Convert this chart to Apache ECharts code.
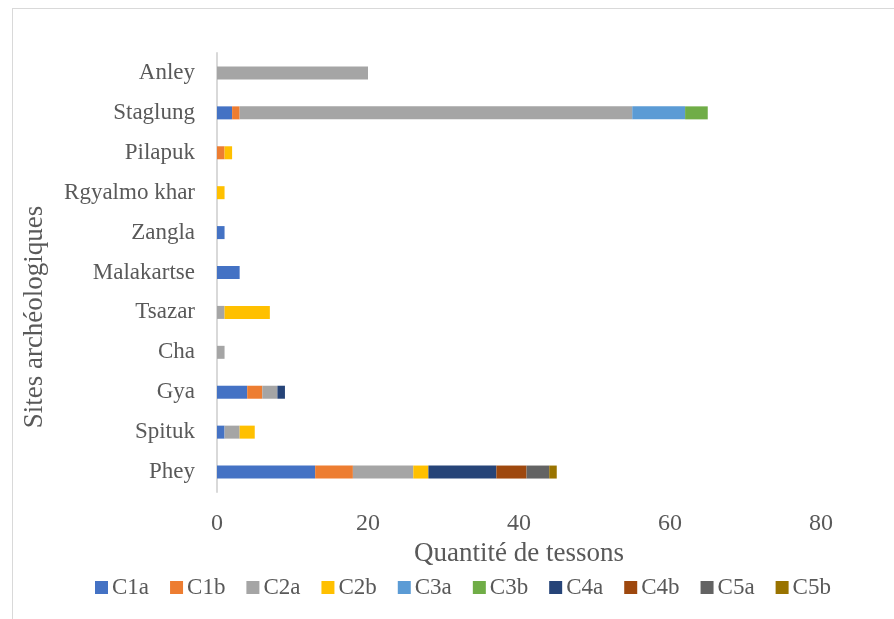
<!DOCTYPE html>
<html>
<head>
<meta charset="utf-8">
<script src="https://cdn.jsdelivr.net/npm/echarts@6/dist/echarts.min.js"></script>
<style>
  html, body { margin: 0; padding: 0; background: #fff; }
  #frame { position: absolute; left: 12px; top: 8px; width: 900px; height: 640px; border-top: 1px solid #d9d9d9; border-left: 1px solid #d9d9d9; }
  #c { position: absolute; left: 0; top: 0; width: 894px; height: 619px; }
</style>
</head>
<body>
<div id="frame"></div>
<div id="c"></div>
<script>
(() => {
  "use strict";
  const sites = ["Phey", "Spituk", "Gya", "Cha", "Tsazar", "Malakartse", "Zangla", "Rgyalmo khar", "Pilapuk", "Staglung", "Anley"];
  const classes = ["C1a", "C1b", "C2a", "C2b", "C3a", "C3b", "C4a", "C4b", "C5a", "C5b"];
  const colors = ["#4472C4", "#ED7D31", "#A5A5A5", "#FFC000", "#5B9BD5", "#70AD47", "#264478", "#9E480E", "#636363", "#997300"];
  // one array per class, in the order of sites (bottom to top)
  const C1a = [13, 1, 4, 0, 0, 3, 1, 0, 0, 2, 0];
  const C1b = [5, 0, 2, 0, 0, 0, 0, 0, 1, 1, 0];
  const C2a = [8, 2, 2, 1, 1, 0, 0, 0, 0, 52, 20];
  const C2b = [2, 2, 0, 0, 6, 0, 0, 1, 1, 0, 0];
  const C3a = [0, 0, 0, 0, 0, 0, 0, 0, 0, 7, 0];
  const C3b = [0, 0, 0, 0, 0, 0, 0, 0, 0, 3, 0];
  const C4a = [9, 0, 1, 0, 0, 0, 0, 0, 0, 0, 0];
  const C4b = [4, 0, 0, 0, 0, 0, 0, 0, 0, 0, 0];
  const C5a = [3, 0, 0, 0, 0, 0, 0, 0, 0, 0, 0];
  const C5b = [1, 0, 0, 0, 0, 0, 0, 0, 0, 0, 0];
  const values = [C1a, C1b, C2a, C2b, C3a, C3b, C4a, C4b, C5a, C5b];

  const FONT = "Liberation Serif";
  const GREY = "#595959";
  const chart = echarts.init(document.getElementById("c"));
  chart.setOption({
    animation: false,
    textStyle: { fontFamily: FONT, color: GREY },
    grid: { left: 217, right: 73, top: 53, bottom: 127 },
    legend: {
      top: 571, left: 90, itemWidth: 13, itemHeight: 13, itemGap: 21,
      icon: "rect", textStyle: { fontFamily: FONT, fontSize: 23, color: GREY, padding: [0, 0, 0, -1] },
      data: classes
    },
    graphic: [{
      type: "text", x: 35, y: 317, rotation: Math.PI / 2,
      style: { text: "Sites archéologiques", font: "27px 'Liberation Serif'", fill: GREY, align: "center", verticalAlign: "middle" }
    }],
    xAxis: {
      type: "value", min: 0, max: 80, interval: 20,
      name: "Quantité de tessons", nameLocation: "middle", nameGap: 46,
      nameTextStyle: { fontFamily: FONT, fontSize: 27, color: GREY },
      axisLine: { show: false }, axisTick: { show: false }, splitLine: { show: false },
      axisLabel: { fontSize: 24, color: GREY, margin: 20 }
    },
    yAxis: {
      type: "category", data: sites,
      axisLine: { show: true, lineStyle: { color: "#d9d9d9", width: 2 } },
      axisTick: { show: false },
      axisLabel: { fontSize: 23, color: GREY, margin: 22 }
    },
    series: classes.map((name, i) => ({
      name, type: "bar", stack: "total", barWidth: 13,
      itemStyle: { color: colors[i] },
      data: values[i]
    }))
  });
})();
</script>
</body>
</html>
